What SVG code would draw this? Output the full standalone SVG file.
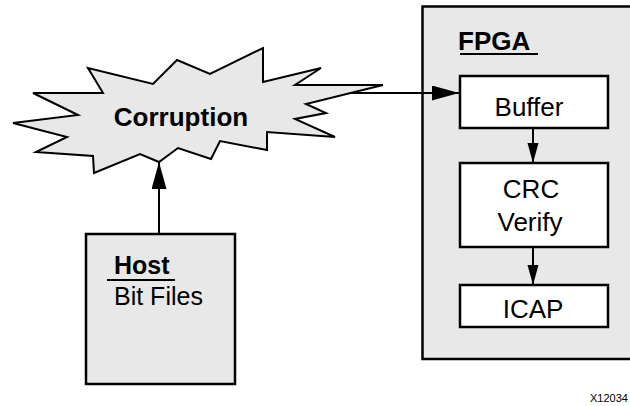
<svg xmlns="http://www.w3.org/2000/svg" width="630" height="406" viewBox="0 0 630 406">
<style>
text{font-family:"Liberation Sans",Arial,sans-serif;font-size:26px;fill:#000}
.b{font-weight:bold}
.box{fill:#fff;stroke:#000;stroke-width:2.5}
.grey{fill:#e8e8e8;stroke:#000;stroke-width:2.5}
.conn{stroke:#000;stroke-width:2;fill:none}
.ul{stroke:#000;stroke-width:2}
</style>
<defs>
<marker id="big" markerUnits="userSpaceOnUse" markerWidth="28" markerHeight="16" refX="27" refY="7.5" orient="auto"><path d="M0,0 L27,7.5 L0,15 Z" fill="#000"/></marker>
<marker id="small" markerUnits="userSpaceOnUse" markerWidth="21" markerHeight="12" refX="20" refY="5.5" orient="auto"><path d="M0,0 L20,5.5 L0,11 Z" fill="#000"/></marker>
</defs>
<rect width="630" height="406" fill="#fff"/>
<g id="fpga">
<rect class="grey" x="422.5" y="6.5" width="220" height="352.5"/>
<text class="b" x="458" y="50">FPGA</text>
<line class="ul" x1="460" y1="54" x2="538" y2="54"/>
</g>
<g id="corruption">
<polygon fill="#e8e8e8" stroke="#000" stroke-width="2" points="13,123 78,115 33,93 103,93 88,68 153,84 177,60 210,74 263,48 263,82 321,68 295,85 383,85 306,104 326,113 295,119 335,137 267,132 267,150 220,141 211,159 178,148 159,162 140,154 94,173 93,156 36,152 67,137"/>
<text class="b" x="181" y="126" text-anchor="middle">Corruption</text>
</g>
<g id="host">
<rect class="grey" x="86" y="234" width="149" height="150"/>
<text class="b" x="114" y="274" style="font-size:25px">Host</text>
<line class="ul" x1="107" y1="280" x2="175" y2="280"/>
<text x="114" y="305" style="font-size:25px">Bit Files</text>
</g>
<g id="buffer">
<rect class="box" x="460" y="76" width="148" height="52"/>
<text x="529" y="116" text-anchor="middle">Buffer</text>
</g>
<g id="crc">
<rect class="box" x="460" y="163" width="148" height="84"/>
<text x="531" y="198" text-anchor="middle">CRC</text>
<text x="530" y="231" text-anchor="middle">Verify</text>
</g>
<g id="icap">
<rect class="box" x="460" y="285" width="148" height="42"/>
<text x="533" y="318" text-anchor="middle">ICAP</text>
</g>
<g id="connectors">
<line class="conn" x1="350" y1="93" x2="459" y2="93" marker-end="url(#big)"/>
<line class="conn" x1="159" y1="234" x2="159" y2="162" marker-end="url(#big)"/>
<line class="conn" x1="533" y1="128" x2="533" y2="163" marker-end="url(#small)"/>
<line class="conn" x1="533" y1="247" x2="533" y2="285" marker-end="url(#small)"/>
</g>
<text x="590" y="402" style="font-size:11px">X12034</text>
</svg>
